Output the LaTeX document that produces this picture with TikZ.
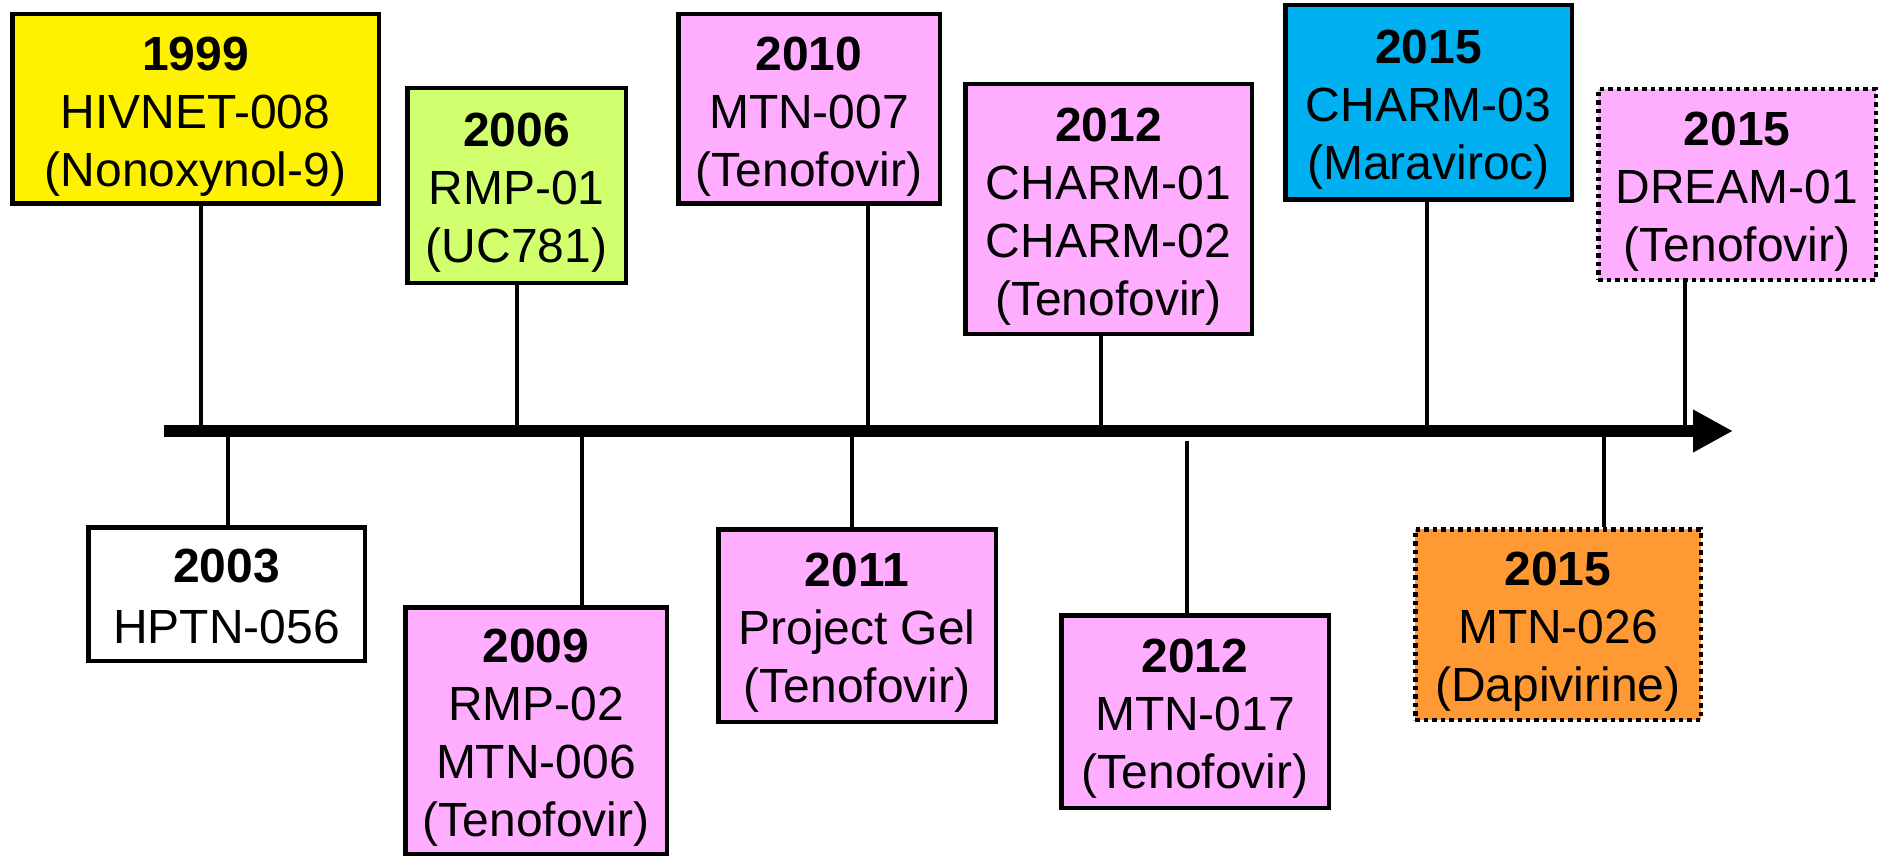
\documentclass[tikz,border=0pt]{standalone}
\usepackage{fontspec}
\setmainfont{Liberation Sans}
\usetikzlibrary{arrows.meta}
\usepackage{xcolor}
\definecolor{gelpink}{HTML}{FFADFF}
\definecolor{gelgreen}{HTML}{D2FF6E}
\definecolor{gelblue}{HTML}{00B0F0}
\definecolor{gelorange}{HTML}{FF9933}
\newcommand\linestrut{\rule[-0.212em]{0pt}{1.217em}}
\newcommand\yr[1]{\linestrut\textbf{#1}}

\begin{document}
\begin{tikzpicture}[
        trial/.style={draw, line width=0.09cm, inner sep=0pt, align=center,
            font=\fontsize{27.3}{33}\selectfont},
        planned/.style={trial, dash pattern=on 0.09cm off 0.08cm},
        stem/.style={line width=0.08cm}]
        \useasboundingbox (0,0) rectangle (37.6,17.16);

        \coordinate (start) at (3.28,8.54);
        \coordinate (end) at (34.66,8.54);

        % above the axis
        \node[trial, fill=yellow, minimum width=7.33cm, minimum height=3.79cm] (b1999) at (3.91,14.98) {\yr{1999}\\HIVNET-008\\(Nonoxynol-9)};
        \node[trial, fill=gelgreen, minimum width=4.37cm, minimum height=3.89cm] (b2006) at (10.33,13.45) {\yr{2006}\\RMP-01\\(UC781)};
        \node[trial, fill=gelpink, minimum width=5.23cm, minimum height=3.79cm] (b2010) at (16.18,14.98) {\yr{2010}\\MTN-007\\(Tenofovir)};
        \node[trial, fill=gelpink, minimum width=5.73cm, minimum height=4.99cm] (b2012a) at (22.17,12.98) {\yr{2012}\\CHARM-01\\CHARM-02\\(Tenofovir)};
        \node[trial, fill=gelblue, minimum width=5.73cm, minimum height=3.89cm] (b2015a) at (28.57,15.11) {\yr{2015}\\CHARM-03\\(Maraviroc)};
        \node[planned, fill=gelpink, minimum width=5.55cm, minimum height=3.81cm] (b2015b) at (34.74,13.47) {\yr{2015}\\DREAM-01\\(Tenofovir)};

        % below the axis
        \node[trial, fill=white, minimum width=5.53cm, minimum height=2.67cm] (b2003) at (4.53,5.28) {\yr{2003}\\HPTN-056\linestrut};
        \node[trial, fill=gelpink, minimum width=5.23cm, minimum height=4.93cm] (b2009) at (10.72,2.55) {\yr{2009}\\RMP-02\\MTN-006\\(Tenofovir)};
        \node[trial, fill=gelpink, minimum width=5.55cm, minimum height=3.85cm] (b2011) at (17.14,4.65) {\yr{2011}\\Project Gel\\(Tenofovir)};
        \node[trial, fill=gelpink, minimum width=5.35cm, minimum height=3.85cm] (b2012b) at (23.9,2.93) {\yr{2012}\\MTN-017\\(Tenofovir)};
        \node[planned, fill=gelorange, minimum width=5.71cm, minimum height=3.81cm] (b2015c) at (31.16,4.67) {\yr{2015}\\MTN-026\\(Dapivirine)};

        \coordinate (t1999) at (4.02,8.54);
        \coordinate (t2006) at (10.34,8.54);
        \coordinate (t2010) at (17.36,8.54);
        \coordinate (t2012a) at (22.02,8.54);
        \coordinate (t2015a) at (28.54,8.54);
        \coordinate (t2015b) at (33.7,8.54);
        \coordinate (t2003) at (4.56,8.54);
        \coordinate (t2009) at (11.64,8.54);
        \coordinate (t2011) at (17.04,8.54);
        \coordinate (t2012b) at (23.74,8.34);
        \coordinate (t2015c) at (32.08,8.54);

        \draw[stem] (b1999.south -| t1999) -- (t1999);
        \draw[stem] (b2006.south -| t2006) -- (t2006);
        \draw[stem] (b2010.south -| t2010) -- (t2010);
        \draw[stem] (b2012a.south -| t2012a) -- (t2012a);
        \draw[stem] (b2015a.south -| t2015a) -- (t2015a);
        \draw[stem] (b2015b.south -| t2015b) -- (t2015b);

        \draw[stem] (t2003) -- (b2003.north -| t2003);
        \draw[stem] (t2009) -- (b2009.north -| t2009);
        \draw[stem] (t2011) -- (b2011.north -| t2011);
        \draw[stem] (t2012b) -- (b2012b.north -| t2012b);
        \draw[stem] (t2015c) -- (b2015c.north -| t2015c);

        \draw[line width=0.24cm, -{Triangle[length=0.8cm, width=0.8cm]}] (start) -- (end);
    \end{tikzpicture}
\end{document}
